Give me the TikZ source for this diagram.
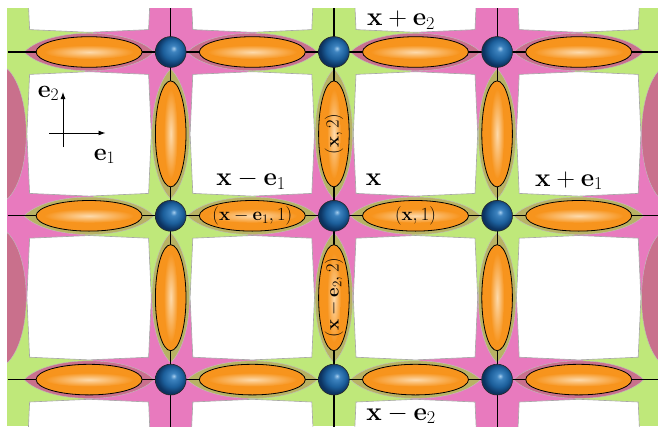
\RequirePackage{fix-cm}
\documentclass[tikz,border=0pt]{standalone}
\usetikzlibrary{arrows.meta}
\definecolor{pinkc}{RGB}{232,122,190}
\definecolor{greenc}{RGB}{191,232,122}
\definecolor{mauvec}{RGB}{201,112,140}
\definecolor{olivec}{RGB}{184,178,100}
\definecolor{orangec}{RGB}{247,148,29}
\definecolor{peachc}{RGB}{253,218,172}
\definecolor{ballhl}{RGB}{165,205,238}
\definecolor{ballmid}{RGB}{62,132,192}
\definecolor{ballc}{RGB}{28,95,155}
\definecolor{balldark}{RGB}{12,50,95}
\pgfdeclareradialshading{myball}{\pgfpoint{5bp}{6bp}}{color(0bp)=(ballhl); color(5bp)=(ballmid); color(16bp)=(ballc); color(25bp)=(balldark); color(50bp)=(balldark)}
\newcommand\pinkcell[2]{%
  \fill[pinkc, shift={(#1,#2)}, rotate=-12] (-80,-80) -- (80,-80) -- (80,80) -- (-80,80) -- cycle;}
\newcommand\wbox[2]{%
  \filldraw[fill=white, draw=black!35, line width=0.6pt, shift={(#1,#2)}]
  (-59.5,-59.5) -- (0,-62.2) -- (59.5,-59.5) -- (62.2,0) -- (59.5,59.5) -- (0,62.2) -- (-59.5,59.5) -- (-62.2,0) -- cycle;}
\newcommand\halo[4]{%
  \filldraw[fill=#4, draw=black!25, line width=0.4pt, shift={(#1,#2)}, rotate=#3]
  (-65,0) .. controls (-40,-25) and (40,-25) .. (65,0) .. controls (40,25) and (-40,25) .. cycle;}
\newcommand\hedge[2]{%
  \fill[orangec] (#1,#2) ellipse [x radius=53pt, y radius=15.3pt];
  \shade[inner color=peachc, outer color=orangec] (#1,#2) ellipse [x radius=45pt, y radius=7pt];
  \draw[line width=0.8pt] (#1,#2) ellipse [x radius=53pt, y radius=15.3pt];}
\newcommand\vedge[2]{%
  \fill[orangec] (#1,#2) ellipse [x radius=15.3pt, y radius=53pt];
  \shade[inner color=peachc, outer color=orangec] (#1,#2) ellipse [x radius=7pt, y radius=45pt];
  \draw[line width=0.8pt] (#1,#2) ellipse [x radius=15.3pt, y radius=53pt];}
\begin{document}
\begin{tikzpicture}[x=1pt,y=-1pt,
  gridline/.style={line width=1.2pt, black},
  ballnode/.style={circle, inner sep=0pt, minimum size=30.8pt, shade, shading=myball, draw=black!85, line width=0.6pt},
  biglabel/.style={inner sep=0pt, anchor=base, font=\fontsize{26}{30}\selectfont},
  axlabel/.style={inner sep=0pt, anchor=base, font=\fontsize{25}{30}\selectfont},
  edgelabel/.style={inner sep=0pt, font=\fontsize{18.5}{22}\selectfont},
  axis/.style={line width=0.9pt, -{Latex[length=7pt,width=5pt]}},
]
\useasboundingbox (0,0) rectangle (658,426);
\begin{scope}
\clip (7,8) rectangle (658,426);
% lattice coordinates
\foreach \i in {0,...,4} \foreach \j in {0,...,4}
  \coordinate (v\i\j) at ({7.5+163.2*\i},{-111.8+163.8*\j});
% background
\fill[greenc] (7,8) rectangle (658,426);
\pinkcell{170.7}{52}\pinkcell{497.1}{52}
\pinkcell{7.5}{215.8}\pinkcell{333.9}{215.8}\pinkcell{660.3}{215.8}
\pinkcell{170.7}{379.6}\pinkcell{497.1}{379.6}
\foreach \px in {89.1,252.3,415.5,578.7}
  \foreach \py in {-29.9,133.9,297.7,461.5}
    {\wbox{\px}{\py}}
% halos
\foreach \hx in {89.1,252.3,415.5,578.7} {\halo{\hx}{52}{0}{mauvec}}
\foreach \hx in {89.1,252.3,415.5,578.7} {\halo{\hx}{215.8}{0}{olivec}}
\halo{89.1}{379.6}{0}{mauvec}\halo{252.3}{379.6}{0}{olivec}
\halo{415.5}{379.6}{0}{olivec}\halo{578.7}{379.6}{0}{mauvec}
\foreach \vy in {133.9,297.7} {
  \halo{7.5}{\vy}{90}{mauvec}
  \halo{170.7}{\vy}{90}{olivec}
  \halo{333.9}{\vy}{90}{olivec}
  \halo{497.1}{\vy}{90}{olivec}
  \halo{660.3}{\vy}{90}{mauvec}}
% grid lines
\foreach \j in {1,2,3} \draw[gridline] (v0\j) -- (v4\j);
\foreach \i in {1,2,3} \draw[gridline] (v\i0) -- (v\i4);
% edge ellipses
\foreach \hx in {89.1,252.3,415.5,578.7}
  \foreach \hy in {52,215.8,379.6} {\hedge{\hx}{\hy}}
\foreach \vx in {170.7,333.9,497.1}
  \foreach \vy in {133.9,297.7} {\vedge{\vx}{\vy}}
% vertices
\foreach \i in {1,2,3} \foreach \j in {1,2,3}
  \node[ballnode] (b\i\j) at (v\i\j) {};
\end{scope}
% edge labels
\node[edgelabel] (ex1) at (415.5,215.8) {$(\mathbf{x},1)$};
\node[edgelabel] (exm1) at (252.3,215.8) {$(\mathbf{x}-\mathbf{e}_1,1)$};
\node[edgelabel, rotate=90] (ex2) at (333.9,133.9) {$(\mathbf{x},2)$};
\node[edgelabel, rotate=90] (exm2) at (333.9,297.7) {$(\mathbf{x}-\mathbf{e}_2,2)$};
% plaquette labels
\node[biglabel] (lxe2p) at (401,25.5) {$\mathbf{x}+\mathbf{e}_2$};
\node[biglabel] (lxe2m) at (401,420) {$\mathbf{x}-\mathbf{e}_2$};
\node[biglabel] (lxe1m) at (251,185.5) {$\mathbf{x}-\mathbf{e}_1$};
\node[biglabel] (lx) at (373.5,185.5) {$\mathbf{x}$};
\node[biglabel] (lxe1p) at (569,186) {$\mathbf{x}+\mathbf{e}_1$};
% axes
\coordinate (a2s) at (63,147);
\coordinate (a2e) at (63,92);
\coordinate (a1s) at (49,133);
\coordinate (a1e) at (105.5,133);
\draw[axis] (a2s) -- (a2e);
\draw[axis] (a1s) -- (a1e);
\node[axlabel] (le2) at (48.5,97) {$\mathbf{e}_2$};
\node[axlabel] (le1) at (104.5,160) {$\mathbf{e}_1$};
\end{tikzpicture}
\end{document}
